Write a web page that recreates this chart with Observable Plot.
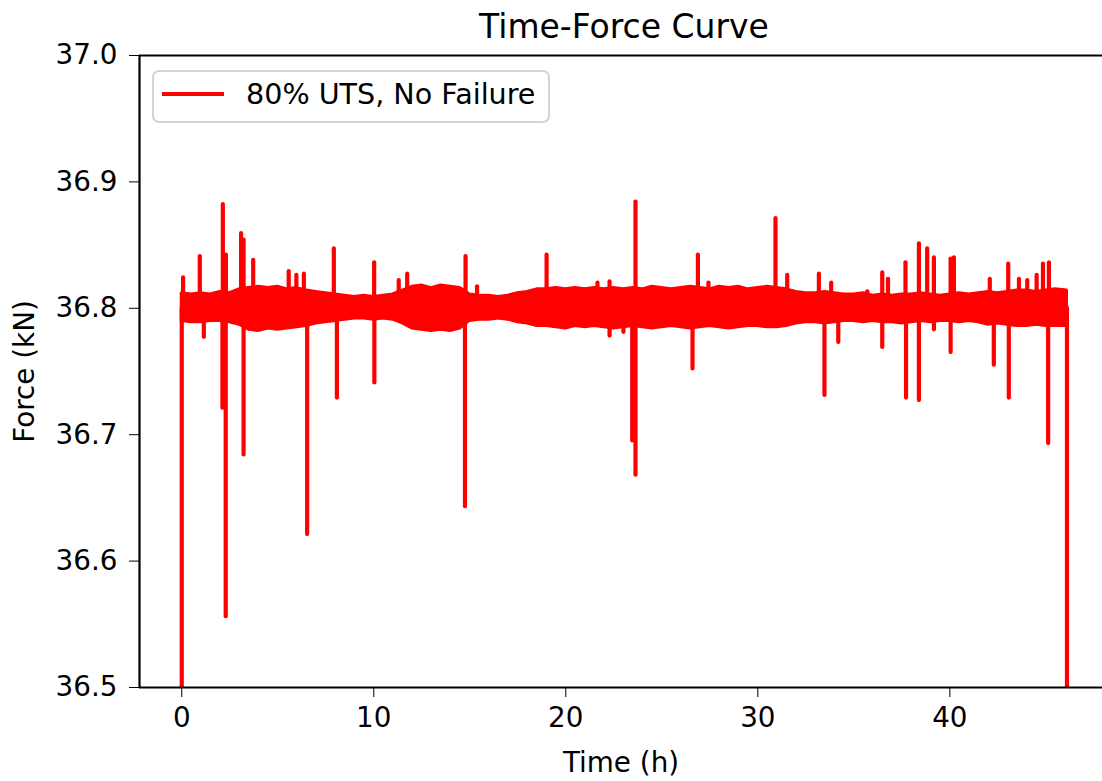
<!DOCTYPE html>
<html>
<head>
<meta charset="utf-8">
<script src="https://cdn.jsdelivr.net/npm/d3@7"></script>
<script src="https://cdn.jsdelivr.net/npm/@observablehq/plot@0.6"></script>
<style>
  html, body { margin: 0; padding: 0; background: #fff; overflow: hidden; }
  #fig { position: relative; width: 1102px; height: 781px; font-family: "DejaVu Sans", sans-serif; }
  #title { position: relative; height: 50px; }
  #title span { position: absolute; left: 624px; top: 2px; transform: translateX(-50%); white-space: nowrap;
    font-size: 33px; line-height: 50px; color: #000; }
  #legend { position: absolute; left: 152px; top: 70px; width: 398px; height: 53px; box-sizing: border-box;
    border: 2.5px solid #d4d4d4; border-radius: 7px; background: rgba(255,255,255,0.8); }
  #legend svg { position: absolute; left: 0; top: 0; }
  #legend span { position: absolute; left: 92px; top: 3px; font-size: 28.6px; line-height: 38px; white-space: nowrap; color: #000; }
</style>
</head>
<body>
<div id="fig">
  <div id="title"><span>Time-Force Curve</span></div>
  <div id="chart"></div>
  <div id="legend">
    <svg width="80" height="48"><line x1="8" x2="70" y1="22" y2="22" stroke="#ff0000" stroke-width="4.2"/></svg>
    <span id="legtext"></span>
  </div>
</div>
<script>
// ---- data ----
const seriesName = "80% UTS, No Failure";
const xTicks = [0, 10, 20, 30, 40];
const yTicks = [36.5, 36.6, 36.7, 36.8, 36.9, 37.0];
const baseForce = 36.80;

// envelope of the dense noisy band (time h, upper kN, lower kN)
const envT  = [0, 0.5, 1, 1.5, 2, 2.5, 3, 3.5, 4, 4.5, 5, 5.5, 6, 6.5, 7, 7.5, 8, 8.5, 9, 9.5, 10, 10.5, 11, 11.5, 12, 12.5, 13, 13.5, 14, 14.5, 15, 15.5, 16, 16.5, 17, 17.5, 18, 18.5, 19, 19.5, 20, 20.5, 21, 21.5, 22, 22.5, 23, 23.5, 24, 24.5, 25, 25.5, 26, 26.5, 27, 27.5, 28, 28.5, 29, 29.5, 30, 30.5, 31, 31.5, 32, 32.5, 33, 33.5, 34, 34.5, 35, 35.5, 36, 36.5, 37, 37.5, 38, 38.5, 39, 39.5, 40, 40.5, 41, 41.5, 42, 42.5, 43, 43.5, 44, 44.5, 45, 45.5, 46.1];
const envHi = [36.812, 36.811, 36.812, 36.811, 36.813, 36.812, 36.815, 36.816, 36.817, 36.816, 36.817, 36.815, 36.816, 36.814, 36.813, 36.812, 36.811, 36.810, 36.809, 36.810, 36.809, 36.810, 36.811, 36.814, 36.817, 36.818, 36.816, 36.818, 36.817, 36.816, 36.811, 36.810, 36.810, 36.809, 36.810, 36.812, 36.813, 36.815, 36.815, 36.816, 36.815, 36.816, 36.815, 36.816, 36.815, 36.816, 36.815, 36.816, 36.815, 36.817, 36.816, 36.815, 36.816, 36.817, 36.816, 36.815, 36.817, 36.816, 36.817, 36.815, 36.816, 36.817, 36.816, 36.815, 36.813, 36.812, 36.812, 36.813, 36.812, 36.811, 36.811, 36.812, 36.810, 36.811, 36.810, 36.811, 36.811, 36.812, 36.811, 36.810, 36.811, 36.812, 36.811, 36.812, 36.813, 36.812, 36.813, 36.814, 36.814, 36.813, 36.814, 36.815, 36.814];
const envLo = [36.790, 36.789, 36.789, 36.790, 36.790, 36.789, 36.787, 36.783, 36.782, 36.784, 36.783, 36.784, 36.785, 36.786, 36.788, 36.789, 36.790, 36.791, 36.792, 36.792, 36.791, 36.792, 36.791, 36.788, 36.784, 36.783, 36.782, 36.783, 36.782, 36.784, 36.790, 36.791, 36.791, 36.792, 36.791, 36.789, 36.788, 36.786, 36.786, 36.785, 36.784, 36.786, 36.785, 36.786, 36.785, 36.784, 36.785, 36.786, 36.785, 36.784, 36.785, 36.786, 36.785, 36.784, 36.785, 36.786, 36.785, 36.784, 36.785, 36.786, 36.786, 36.785, 36.785, 36.786, 36.788, 36.789, 36.789, 36.788, 36.789, 36.790, 36.790, 36.789, 36.790, 36.789, 36.789, 36.788, 36.789, 36.790, 36.789, 36.790, 36.790, 36.789, 36.790, 36.789, 36.787, 36.788, 36.787, 36.786, 36.786, 36.787, 36.786, 36.786, 36.786];

// upward spikes (time h, peak kN)
const upT = [0.07, 0.94, 2.14, 2.30, 3.09, 3.22, 3.72, 5.57, 5.97, 6.36, 7.92, 10.02, 11.30, 11.74, 14.78, 15.38, 19.00, 21.65, 22.28, 23.63, 26.88, 27.43, 30.92, 31.53, 33.18, 33.82, 35.70, 36.48, 36.78, 37.69, 38.39, 38.82, 39.17, 40.04, 40.21, 42.08, 43.04, 43.60, 44.03, 44.52, 44.85, 45.16, 45.80];
const upV = [36.824, 36.841, 36.882, 36.842, 36.859, 36.854, 36.838, 36.829, 36.826, 36.827, 36.847, 36.836, 36.822, 36.827, 36.841, 36.817, 36.842, 36.820, 36.821, 36.884, 36.842, 36.820, 36.871, 36.826, 36.827, 36.820, 36.813, 36.828, 36.823, 36.836, 36.851, 36.847, 36.840, 36.839, 36.840, 36.823, 36.835, 36.823, 36.822, 36.826, 36.835, 36.836, 36.814];

// downward spikes (time h, trough kN)
const downT = [0.00, 1.15, 2.12, 2.29, 3.22, 6.53, 8.08, 10.03, 14.75, 22.28, 23.00, 23.46, 23.63, 26.60, 33.47, 34.19, 36.48, 37.72, 38.39, 39.17, 40.04, 42.29, 43.07, 45.12, 46.10];
const downV = [36.40, 36.777, 36.721, 36.556, 36.684, 36.621, 36.729, 36.741, 36.643, 36.778, 36.781, 36.695, 36.668, 36.752, 36.731, 36.773, 36.769, 36.729, 36.727, 36.783, 36.765, 36.755, 36.729, 36.693, 36.40];

// ---- build tables ----
const band = envT.map((t, i) => ({t, hi: envHi[i], lo: envLo[i]}));
const ups = upT.map((t, i) => ({t, v: upV[i]}));
const downs = downT.map((t, i) => ({t, v: downV[i]}));
const xDomain = [-2.2, 47.95];
const yDomain = [36.5, 37.0];

document.getElementById("legtext").textContent = seriesName;

const chart = Plot.plot({
  width: 1102,
  height: 731,
  marginTop: 5,
  marginBottom: 94,
  marginLeft: 139,
  marginRight: 0,
  style: {fontFamily: "DejaVu Sans", fontSize: "27.8px", color: "#000", background: "#fff", overflow: "visible"},
  x: {domain: xDomain, ticks: xTicks, tickFormat: d3.format("d"), tickSize: 10, tickPadding: 10,
      label: "Time (h)", labelAnchor: "center", labelOffset: 84, labelArrow: "none"},
  y: {domain: yDomain, ticks: yTicks, tickFormat: d3.format(".1f"), tickSize: 10, tickPadding: 12,
      label: "Force (kN)", labelAnchor: "center", labelOffset: 125, labelArrow: "none"},
  marks: [
    Plot.areaY(band, {x: "t", y1: "lo", y2: "hi", fill: "#ff0000", stroke: "#ff0000", strokeWidth: 3, strokeLinejoin: "round", clip: true}),
    Plot.ruleX(ups, {x: "t", y1: () => baseForce, y2: "v", stroke: "#ff0000", strokeWidth: 4.2, strokeLinecap: "round", clip: true}),
    Plot.ruleX(downs, {x: "t", y1: () => baseForce, y2: "v", stroke: "#ff0000", strokeWidth: 4.2, strokeLinecap: "round", clip: true}),
    Plot.ruleX([xDomain[0]], {stroke: "#000", strokeWidth: 2.2}),
    Plot.ruleY(yDomain, {stroke: "#000", strokeWidth: 2.2})
  ]
});
document.getElementById("chart").appendChild(chart);
</script>
</body>
</html>
